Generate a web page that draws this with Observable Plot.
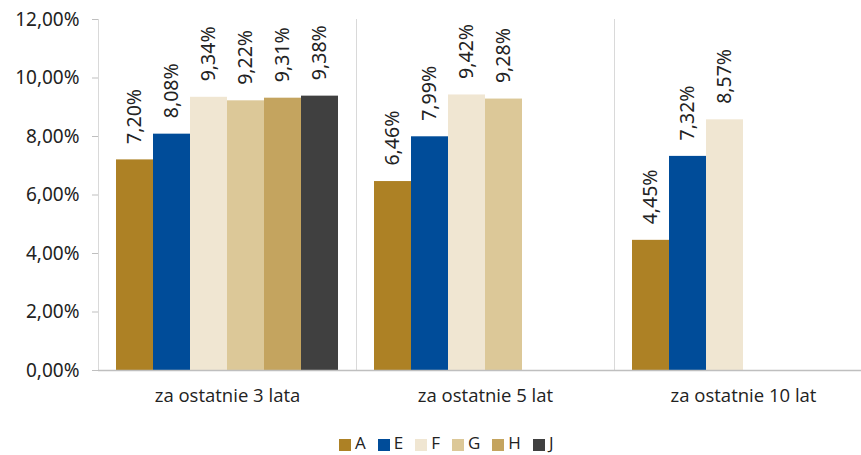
<!DOCTYPE html>
<html>
<head>
<meta charset="utf-8">
<script src="https://cdn.jsdelivr.net/npm/d3@7"></script>
<script src="https://cdn.jsdelivr.net/npm/@observablehq/plot@0.6"></script>
<style>
  html, body { margin: 0; padding: 0; background: #fff; }
  #wrap { position: relative; width: 861px; height: 455px; overflow: hidden; }
  #chart { position: absolute; left: 0; top: 0; width: 872px; }
  #chart svg { max-width: none !important; }
  #legend { position: absolute; left: 339px; top: 431px; display: flex; align-items: center;
            font-family: "Open Sans", sans-serif; font-size: 17px; color: #222; }
  .item { display: flex; align-items: center; margin-right: 12px; }
  .sw { width: 12px; height: 12px; margin-right: 4px; position: relative; top: 2px; }
</style>
</head>
<body>
<div id="wrap">
  <div id="chart"></div>
  <div id="legend"></div>
</div>
<script>
const periods = ["za ostatnie 3 lata", "za ostatnie 5 lat", "za ostatnie 10 lat"];
const series = ["A", "E", "F", "G", "H", "J"];
const colors = ["#AD8125", "#004C99", "#F0E6D2", "#DCC898", "#C4A45F", "#404040"];
const values3 = [7.20, 8.08, 9.34, 9.22, 9.31, 9.38];
const values5 = [6.46, 7.99, 9.42, 9.28];
const values10 = [4.45, 7.32, 8.57];
const yTicks = [0, 2, 4, 6, 8, 10, 12];

const allValues = [values3, values5, values10];
const data = [];
periods.forEach((p, i) => {
  allValues[i].forEach((v, j) => data.push({period: p, series: series[j], value: v}));
});

const fmt = d => d.toFixed(2).replace(".", ",") + "%";

const chart = Plot.plot({
  width: 872,
  height: 415,
  marginLeft: 98,
  marginRight: 0,
  marginTop: 19,
  marginBottom: 45,
  style: {fontFamily: "'Noto Sans', sans-serif", fontSize: "18px", color: "#222", background: "#fff"},
  fx: {domain: periods, padding: 0, label: null},
  x: {domain: series, paddingInner: 0, paddingOuter: 0.4, axis: null},
  y: {domain: [0, 12], axis: null},
  color: {domain: series, range: colors},
  marks: [
    Plot.frame({anchor: "left", stroke: "#d9d9d9"}),
    Plot.barY(data, {fx: "period", x: "series", y: "value", fill: "series"}),
    Plot.ruleY([0], {stroke: "#bfbfbf", strokeWidth: 1.5}),
    Plot.text(data, {fx: "period", x: "series", y: "value", text: d => fmt(d.value),
      rotate: -90, textAnchor: "start", lineAnchor: "middle", dy: -16,
      fontSize: 19.5, fill: "#222"}),
    Plot.axisY({ticks: yTicks, tickFormat: fmt, tickSize: 6, tickPadding: 13,
      stroke: "#bfbfbf", fill: "#222", fontSize: 19, label: null}),
    Plot.axisFx({anchor: "bottom", tickSize: 0, tickPadding: 18, label: null,
      fontFamily: "'Open Sans', sans-serif", fontSize: 18.5, fill: "#222"})
  ]
});
document.getElementById("chart").appendChild(chart);

const legend = document.getElementById("legend");
series.forEach((s, i) => {
  const item = document.createElement("div");
  item.className = "item";
  const sw = document.createElement("div");
  sw.className = "sw";
  sw.style.background = colors[i];
  const t = document.createElement("span");
  t.textContent = s;
  item.appendChild(sw);
  item.appendChild(t);
  legend.appendChild(item);
});
</script>
</body>
</html>
